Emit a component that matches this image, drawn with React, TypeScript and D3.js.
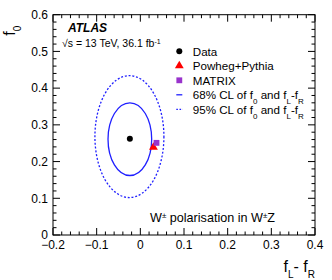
import React from 'react';
import * as d3 from 'd3';

// points: [fL - fR, f0]
const dataPoint = [-0.024, 0.262];
const powhegPoint = [0.030, 0.239];
const matrixPoint = [0.037, 0.251];

// contours: centre x, centre y, half width, half height
const cl68 = [-0.024, 0.261, 0.05, 0.099];
const cl95 = [-0.025, 0.268, 0.079, 0.166];

const xTicks = [-0.2, -0.1, 0, 0.1, 0.2, 0.3, 0.4];
const yTicks = [0, 0.1, 0.2, 0.3, 0.4, 0.5, 0.6];

const legendLabels = ['Data', 'Powheg+Pythia', 'MATRIX', '68%', '95%'];

const W = 332;
const H = 280;
const margin = { top: 14.7, right: 17, bottom: 45, left: 53 };
const FONT = '"Liberation Sans", Arial, Helvetica, sans-serif';
const BLUE = '#1f1fff';

const App = () => {
  const x = d3.scaleLinear().domain([-0.2, 0.4]).range([margin.left, W - margin.right]);
  const y = d3.scaleLinear().domain([0, 0.6]).range([H - margin.bottom, margin.top]);

  const x0 = margin.left, x1 = W - margin.right;
  const y0 = H - margin.bottom, y1 = margin.top;

  const minorX = d3.range(-0.2, 0.4001, 0.02);
  const minorY = d3.range(0, 0.6001, 0.02);
  const isMajor = (v) => Math.abs(v * 10 - Math.round(v * 10)) < 1e-6;

  const fmt = (v) => (Math.abs(v) < 1e-9 ? '0' : d3.format('.1f')(v).replace('-', '\u2212'));

  const ell = (c, dash) => (
    <ellipse
      cx={x(c[0])}
      cy={y(c[1])}
      rx={x(c[0] + c[2]) - x(c[0])}
      ry={y(c[1]) - y(c[1] + c[3])}
      fill="none"
      stroke={BLUE}
      strokeWidth={1.3}
      strokeDasharray={dash ? '2,1.8' : undefined}
    />
  );

  const tri = d3.symbol().type(d3.symbolTriangle).size(34)();
  const sq = d3.symbol().type(d3.symbolSquare).size(34)();

  const legX = 179.3;
  const legY0 = 51.3;
  const legDy = 14.5;
  const sub = (t) => <tspan baselineShift="sub" fontSize="8">{t}</tspan>;
  const clText = (pct) => (
    <>
      {pct} CL of f{sub('0')} and f{sub('L')}-f{sub('R')}
    </>
  );

  return (
    <svg width={W} height={H} style={{ position: 'absolute', left: 0, top: 0, background: '#fff' }} fontFamily={FONT}>
      <rect x={0} y={0} width={W} height={H} fill="#fff" />

      {/* contours */}
      {ell(cl95, true)}
      {ell(cl68, false)}

      {/* markers */}
      <circle cx={x(dataPoint[0])} cy={y(dataPoint[1])} r={3} fill="#000" />
      <path d={tri} transform={`translate(${x(powhegPoint[0])},${y(powhegPoint[1])})`} fill="#ff0000" />
      <path d={sq} transform={`translate(${x(matrixPoint[0])},${y(matrixPoint[1])})`} fill="#9933cc" />

      {/* frame */}
      <rect x={x0} y={y1} width={x1 - x0} height={y0 - y1} fill="none" stroke="#000" strokeWidth={1} />

      {/* x ticks */}
      {minorX.map((v, i) => {
        const len = isMajor(v) ? 7 : 3.5;
        return (
          <g key={'xt' + i} stroke="#000" strokeWidth={1}>
            <line x1={x(v)} x2={x(v)} y1={y0} y2={y0 - len} />
            <line x1={x(v)} x2={x(v)} y1={y1} y2={y1 + len} />
          </g>
        );
      })}
      {/* y ticks */}
      {minorY.map((v, i) => {
        const len = isMajor(v) ? 7 : 3.5;
        return (
          <g key={'yt' + i} stroke="#000" strokeWidth={1}>
            <line x1={x0} x2={x0 + len} y1={y(v)} y2={y(v)} />
            <line x1={x1} x2={x1 - len} y1={y(v)} y2={y(v)} />
          </g>
        );
      })}

      {/* tick labels */}
      {xTicks.map((v) => (
        <text key={'xl' + v} x={x(v)} y={y0 + 14} textAnchor="middle" fontSize={12}>
          {fmt(v)}
        </text>
      ))}
      {yTicks.map((v) => (
        <text key={'yl' + v} x={x0 - 5} y={y(v) + 4.3} textAnchor="end" fontSize={12}>
          {fmt(v)}
        </text>
      ))}

      {/* axis titles */}
      <text transform={`translate(15,${y1 + 11}) rotate(-90)`} textAnchor="end" fontSize={16}>
        f{<tspan baselineShift="sub" fontSize="10">0</tspan>}
      </text>
      <text x={x1} y={272} textAnchor="end" fontSize={16}>
        f{<tspan baselineShift="sub" fontSize="10">L</tspan>}- f{<tspan baselineShift="sub" fontSize="10">R</tspan>}
      </text>

      {/* labels */}
      <text x={68} y={32} fontSize={12} fontWeight="bold" fontStyle="italic">ATLAS</text>
      <text x={62} y={47} fontSize={10.5}>
        {'\u221As = 13 TeV, 36.1 fb'}
        <tspan baselineShift="super" fontSize="7">-1</tspan>
      </text>

      {/* legend */}
      <g fontSize={11.6}>
        <circle cx={legX} cy={legY0} r={3} fill="#000" />
        <text x={legX + 13.5} y={legY0 + 4.2}>{legendLabels[0]}</text>

        <path d={tri} transform={`translate(${legX},${legY0 + legDy})`} fill="#ff0000" />
        <text x={legX + 13.5} y={legY0 + legDy + 4.2}>{legendLabels[1]}</text>

        <path d={sq} transform={`translate(${legX},${legY0 + 2 * legDy})`} fill="#9933cc" />
        <text x={legX + 13.5} y={legY0 + 2 * legDy + 4.2}>{legendLabels[2]}</text>

        <line x1={legX - 3} x2={legX + 3} y1={legY0 + 3 * legDy} y2={legY0 + 3 * legDy} stroke={BLUE} strokeWidth={1.3} />
        <text x={legX + 13.5} y={legY0 + 3 * legDy + 4.2}>{clText(legendLabels[3])}</text>

        <line x1={legX - 3} x2={legX + 3.5} y1={legY0 + 4 * legDy} y2={legY0 + 4 * legDy} stroke={BLUE} strokeWidth={1.3} strokeDasharray="1.6,1.6" />
        <text x={legX + 13.5} y={legY0 + 4 * legDy + 4.2}>{clText(legendLabels[4])}</text>
      </g>

      <text x={150} y={221.7} fontSize={12.6}>
        W<tspan baselineShift="super" fontSize="8">{'\u00B1'}</tspan> polarisation in W
        <tspan baselineShift="super" fontSize="8">{'\u00B1'}</tspan>Z
      </text>
    </svg>
  );
};

export default App;
